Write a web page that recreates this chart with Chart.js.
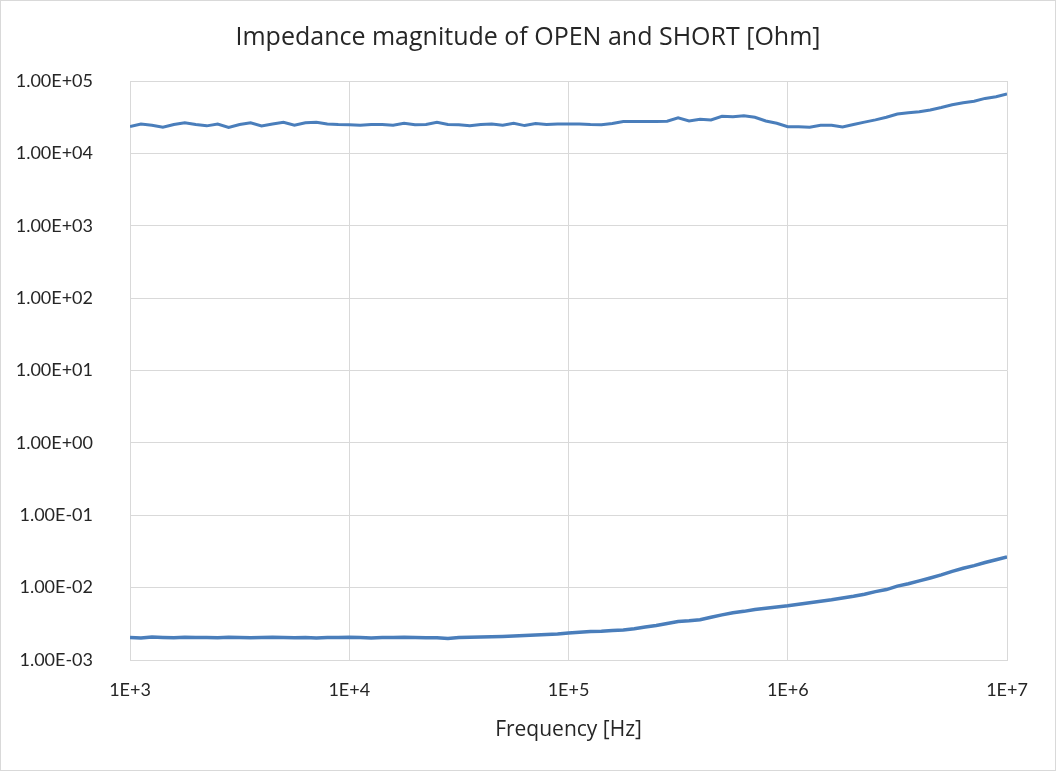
<!DOCTYPE html>
<html>
<head>
<meta charset="utf-8">
<script src="https://cdn.jsdelivr.net/npm/chart.js@4/dist/chart.umd.min.js"></script>
<style>
html,body{margin:0;padding:0;background:#fff;}
#wrap{width:1056px;height:771px;position:relative;}
</style>
</head>
<body>
<div id="wrap"><canvas id="c" width="1056" height="771"></canvas></div>
<script>
const chartTitle = "Impedance magnitude of OPEN and SHORT [Ohm]";
const xTitle = "Frequency [Hz]";
const seriesNames = ["OPEN", "SHORT"];

const frequencies = [
  1000,1122,1259,1413,1585,1778,1995,2239,2512,2818,
  3162,3548,3981,4467,5012,5623,6310,7079,7943,8913,
  10000,11220,12589,14125,15849,17783,19953,22387,25119,28184,
  31623,35481,39811,44668,50119,56234,63096,70795,79433,89125,
  100000,112202,125893,141254,158489,177828,199526,223872,251189,281838,
  316228,354813,398107,446684,501187,562341,630957,707946,794328,891251,
  1000000,1122018,1258925,1412538,1584893,1778279,1995262,2238721,2511886,2818383,
  3162278,3548134,3981072,4466836,5011872,5623413,6309573,7079458,7943282,8912509,
  10000000
];

const openZ = [
  23500,25500,24500,23000,25000,26500,25000,24000,25500,22800,
  25000,26500,24000,25500,26800,24500,26500,27000,25500,25000,
  24800,24500,25000,25000,24500,26000,24800,25000,26800,25000,
  24800,24000,25000,25500,24500,26000,24200,25800,25000,25500,
  25500,25500,25000,24800,25800,27500,27500,27500,27500,27800,
  31000,28000,29500,29000,32500,32000,33000,31500,28000,26100,
  23400,23400,23000,24500,24500,23200,25000,27000,29000,31500,
  35000,36500,37500,39800,43000,47000,50200,52500,57500,60500,
  66000
];

const shortZ = [
  0.00205,0.00202,0.00208,0.00205,0.00203,0.00206,0.00204,0.00205,0.00203,0.00206,
  0.00204,0.00203,0.00205,0.00206,0.00204,0.00203,0.00205,0.00202,0.00205,0.00204,
  0.00206,0.00204,0.00202,0.00205,0.00204,0.00206,0.00205,0.00203,0.00203,0.00198,
  0.00205,0.00207,0.00208,0.0021,0.00212,0.00215,0.00218,0.00222,0.00225,0.00228,
  0.00236,0.00242,0.00248,0.0025,0.00255,0.0026,0.0027,0.00285,0.003,0.0032,
  0.0034,0.00348,0.0036,0.0039,0.0042,0.0045,0.0047,0.005,0.0052,0.0054,
  0.0056,0.0059,0.0062,0.0065,0.0068,0.0072,0.0076,0.0081,0.0088,0.0094,
  0.0105,0.0113,0.0124,0.0136,0.015,0.0168,0.0185,0.0201,0.0222,0.0243,
  0.0266
];

const xTicks = [1e3, 1e4, 1e5, 1e6, 1e7];
const xTickLabels = ["1E+3", "1E+4", "1E+5", "1E+6", "1E+7"];
const yTicks = [1e-3, 1e-2, 1e-1, 1e0, 1e1, 1e2, 1e3, 1e4, 1e5];
const yTickLabels = ["1.00E-03","1.00E-02","1.00E-01","1.00E+00","1.00E+01","1.00E+02","1.00E+03","1.00E+04","1.00E+05"];

const lineColor = "#4a7ebb";
const gridColor = "#d9d9d9";
const textColor = "#262626";
const fontFamily = "Lato, 'Open Sans', sans-serif";
const titleFamily = "'Open Sans', Lato, sans-serif";

const borderPlugin = {
  id: 'outerBorder',
  afterDraw(chart) {
    const ctx = chart.ctx;
    ctx.save();
    ctx.strokeStyle = gridColor;
    ctx.lineWidth = 1;
    ctx.strokeRect(0.5, 0.5, chart.width - 1, chart.height - 1);
    ctx.restore();
  },
  beforeDraw(chart) {
    const ctx = chart.ctx;
    ctx.save();
    ctx.fillStyle = '#fff';
    ctx.fillRect(0, 0, chart.width, chart.height);
    ctx.restore();
  }
};

new Chart(document.getElementById('c'), {
  type: 'line',
  data: {
    datasets: [
      { label: seriesNames[0], data: frequencies.map((f, i) => ({x: f, y: openZ[i]})),
        borderColor: lineColor, borderWidth: 3, pointRadius: 0, tension: 0, fill: false },
      { label: seriesNames[1], data: frequencies.map((f, i) => ({x: f, y: shortZ[i]})),
        borderColor: lineColor, borderWidth: 3.5, pointRadius: 0, tension: 0, fill: false }
    ]
  },
  options: {
    responsive: false,
    animation: false,
    devicePixelRatio: 1,
    layout: { padding: { left: 0, right: 0, top: 0, bottom: 0 } },
    plugins: {
      legend: { display: false },
      tooltip: { enabled: false },
      title: {
        display: true, text: chartTitle, color: textColor,
        font: { family: titleFamily, size: 25, weight: 'normal' },
        padding: { top: 23, bottom: 28 }
      }
    },
    scales: {
      x: {
        type: 'logarithmic', min: 1e3, max: 1e7,
        afterBuildTicks: axis => { axis.ticks = xTicks.map(v => ({ value: v })); },
        afterFit: axis => { axis.height = 111; },
        ticks: {
          color: textColor, font: { family: fontFamily, size: 18 }, padding: 19,
          maxRotation: 0, autoSkip: false,
          callback: (v) => { const i = xTicks.indexOf(v); return i >= 0 ? xTickLabels[i] : ''; }
        },
        grid: { color: gridColor, lineWidth: 1, drawTicks: false },
        border: { color: gridColor, width: 1 },
        title: { display: true, text: xTitle, color: textColor,
          font: { family: titleFamily, size: 21 }, padding: { top: 0, bottom: 28 } }
      },
      y: {
        type: 'logarithmic', min: 1e-3, max: 1e5,
        afterBuildTicks: axis => { axis.ticks = yTicks.map(v => ({ value: v })); },
        afterFit: axis => { axis.width = 130; },
        ticks: {
          color: textColor, font: { family: fontFamily, size: 18 }, padding: 37,
          autoSkip: false,
          callback: (v) => { const i = yTicks.indexOf(v); return i >= 0 ? yTickLabels[i] : ''; }
        },
        grid: { color: gridColor, lineWidth: 1, drawTicks: false },
        border: { color: gridColor, width: 1 }
      },
      spacer: {
        type: 'linear', position: 'right', display: true,
        afterFit: axis => { axis.width = 49; },
        ticks: { display: false },
        grid: { display: false, drawTicks: false },
        border: { display: false }
      }
    }
  },
  plugins: [borderPlugin]
});
</script>
</body>
</html>
